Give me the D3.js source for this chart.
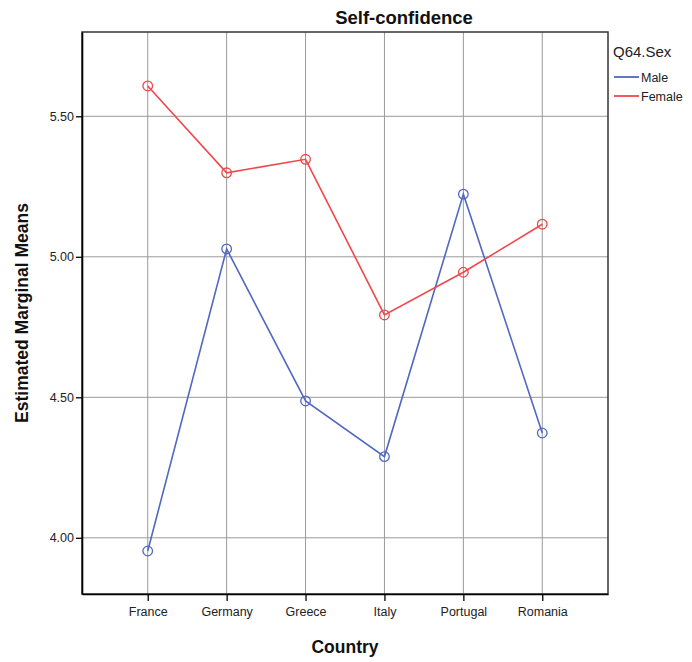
<!DOCTYPE html>
<html>
<head>
<meta charset="utf-8">
<script src="https://cdn.jsdelivr.net/npm/d3@7/dist/d3.min.js"></script>
<style>
  html, body { margin: 0; padding: 0; background: #fff; }
  svg { display: block; font-family: "Liberation Sans", Arial, sans-serif; }
</style>
</head>
<body>
<svg id="chart" width="692" height="662"></svg>
<script>
// Estimated marginal means of self-confidence by country and sex
const countries = ["France", "Germany", "Greece", "Italy", "Portugal", "Romania"];
const maleMeans = [3.953, 5.028, 4.487, 4.289, 5.223, 4.373];
const femaleMeans = [5.608, 5.299, 5.347, 4.793, 4.945, 5.116];
const yTicks = [4.0, 4.5, 5.0, 5.5];
const seriesNames = ["Male", "Female"];
const seriesColors = ["#5068c0", "#f0474a"];

const svg = d3.select("#chart");
const plot = { left: 82, right: 608, top: 32, bottom: 594 };

const x = d3.scalePoint().domain(countries)
  .range([plot.left, plot.right]).padding(0.833);
const y = d3.scaleLinear().domain([3.8, 5.8]).range([plot.bottom, plot.top]);

// Gridlines
const grid = svg.append("g");
grid.selectAll("line.v").data(countries).join("line")
  .attr("x1", d => x(d)).attr("x2", d => x(d))
  .attr("y1", plot.top).attr("y2", plot.bottom)
  .attr("stroke", "#9a9a9a").attr("stroke-width", 1);
grid.selectAll("line.h").data(yTicks).join("line")
  .attr("x1", plot.left).attr("x2", plot.right)
  .attr("y1", d => y(d)).attr("y2", d => y(d))
  .attr("stroke", "#9a9a9a").attr("stroke-width", 1);

// Frame
svg.append("rect")
  .attr("x", plot.left).attr("y", plot.top)
  .attr("width", plot.right - plot.left).attr("height", plot.bottom - plot.top)
  .attr("fill", "none").attr("stroke", "#333").attr("stroke-width", 1.5);

// Axes
const yAxis = svg.append("g")
  .attr("transform", `translate(${plot.left},0)`)
  .call(d3.axisLeft(y).tickValues(yTicks).tickFormat(d3.format(".2f"))
    .tickSizeInner(6).tickSizeOuter(0).tickPadding(2));
const xAxis = svg.append("g")
  .attr("transform", `translate(0,${plot.bottom})`)
  .call(d3.axisBottom(x).tickSizeInner(7).tickSizeOuter(0).tickPadding(6));
[yAxis, xAxis].forEach(a => {
  a.select(".domain").attr("stroke", "#000").attr("stroke-width", 1.6);
  a.selectAll(".tick line").attr("stroke", "#000").attr("stroke-width", 1.3);
  a.selectAll(".tick text").attr("fill", "#222")
    .style("font-family", "'Liberation Sans', Arial, sans-serif").style("font-size", "12.5px");
});

// Series
const series = [maleMeans, femaleMeans];
const line = d3.line().x((d, i) => x(countries[i])).y(d => y(d));
series.forEach((vals, s) => {
  const g = svg.append("g");
  g.append("path").datum(vals)
    .attr("d", line).attr("fill", "none")
    .attr("stroke", seriesColors[s]).attr("stroke-width", 1.6);
  g.selectAll("circle").data(vals).join("circle")
    .attr("cx", (d, i) => x(countries[i])).attr("cy", d => y(d))
    .attr("r", 4.8).attr("fill", "none")
    .attr("stroke", seriesColors[s]).attr("stroke-width", 1.3);
});

// Titles
svg.append("text").attr("x", 404).attr("y", 24)
  .attr("text-anchor", "middle").attr("font-weight", "bold").attr("font-size", 18.5)
  .attr("fill", "#111").text("Self-confidence");
svg.append("text").attr("x", 345).attr("y", 653)
  .attr("text-anchor", "middle").attr("font-weight", "bold").attr("font-size", 17.5)
  .attr("fill", "#111").text("Country");
svg.append("text")
  .attr("transform", `translate(28,${(plot.top + plot.bottom) / 2}) rotate(-90)`)
  .attr("text-anchor", "middle").attr("font-weight", "bold").attr("font-size", 17.5)
  .attr("fill", "#111").text("Estimated Marginal Means");

// Legend
const legend = svg.append("g");
legend.append("text").attr("x", 613).attr("y", 57)
  .attr("font-size", 15).attr("fill", "#222")
  .text("Q64.Sex");
seriesNames.forEach((name, i) => {
  const ly = 77 + i * 19;
  legend.append("line").attr("x1", 614).attr("x2", 639)
    .attr("y1", ly).attr("y2", ly)
    .attr("stroke", seriesColors[i]).attr("stroke-width", 1.8);
  legend.append("text").attr("x", 641).attr("y", ly + 4.5)
    .attr("font-size", 12.5).attr("fill", "#222").text(name);
});
</script>
</body>
</html>
